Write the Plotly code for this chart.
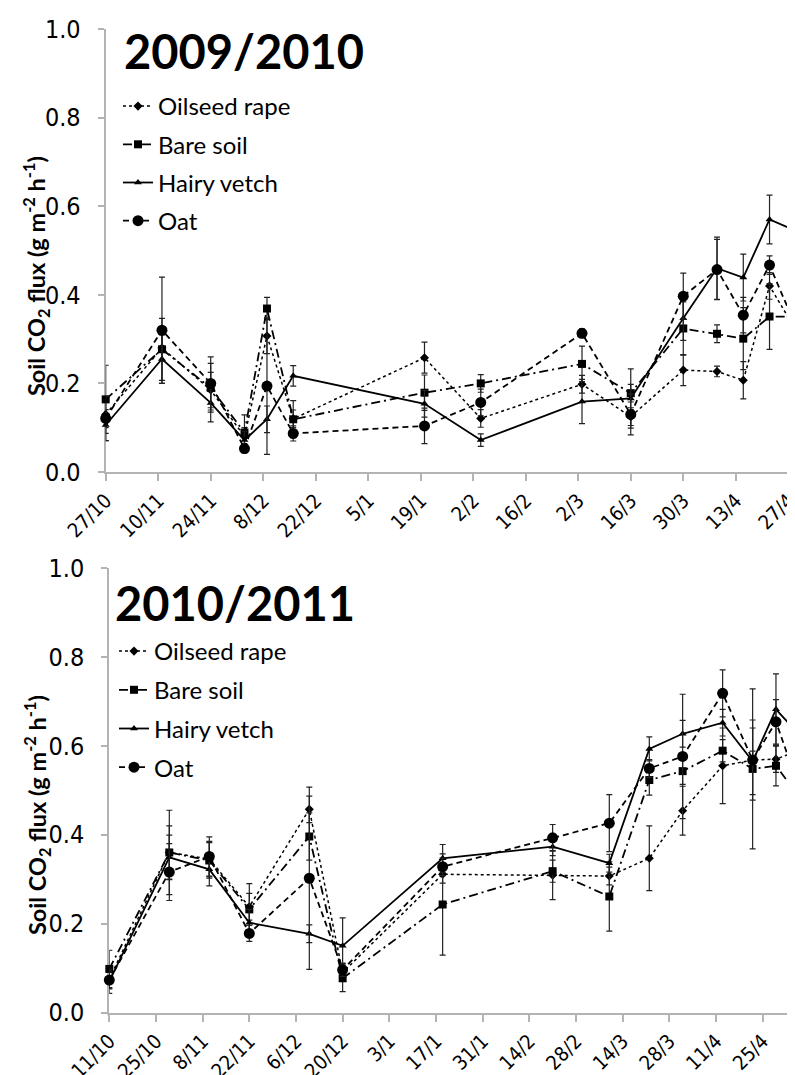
import plotly.graph_objects as go

# page is shown at 795x1075; the browser adds an 8px body margin
W, H = 795, 1075
OFF = 8
FW, FH = W - OFF, H - OFF


def px(x):
    return (x - OFF) / FW


def py(y):
    return 1 - (y - OFF) / FH


# ---------------- 2009/2010 ----------------
dates_0910 = ["2009-10-27", "2009-11-11", "2009-11-24", "2009-12-03", "2009-12-09",
              "2009-12-16", "2010-01-20", "2010-02-04", "2010-03-03", "2010-03-16",
              "2010-03-30", "2010-04-08", "2010-04-15", "2010-04-22", "2010-05-04"]
oilseed_0910 = [0.13, 0.28, 0.185, 0.08, 0.307, 0.12, 0.258, 0.121, 0.198, 0.125,
                0.23, 0.227, 0.207, 0.42, 0.25]
bare_0910 = [0.164, 0.277, 0.19, 0.089, 0.369, 0.119, 0.179, 0.2, 0.244, 0.178,
             0.324, 0.312, 0.301, 0.351, 0.35]
hairy_0910 = [0.106, 0.255, 0.156, 0.072, 0.119, 0.217, 0.154, 0.072, 0.159, 0.166,
              0.347, 0.46, 0.439, 0.57, 0.526]
oat_0910 = [0.121, 0.32, 0.2, 0.053, 0.194, 0.087, 0.104, 0.157, 0.313, 0.13,
            0.397, 0.457, 0.354, 0.467, 0.23]
oilseed_0910_err = [0.03, 0.03, 0.04, 0.02, 0.04, 0.02, 0.035, 0.02, 0.02, 0.02,
                    0.035, 0.012, 0.042, 0.03, 0.03]
bare_0910_err = [0.077, 0.07, 0.055, 0.04, 0.025, 0.042, 0.04, 0.02, 0.04, 0.02,
                 0.06, 0.02, 0.07, 0.074, 0.03]
hairy_0910_err = [0.035, 0.055, 0.043, 0.02, 0.03, 0.023, 0.03, 0.014, 0.05, 0.067,
                  0.05, 0.07, 0.053, 0.055, 0.03]
oat_0910_err = [0.05, 0.12, 0.06, 0.01, 0.154, 0.017, 0.04, 0.03, 0.01, 0.046,
                0.052, 0.068, 0.04, 0.021, 0.03]
tick_dates_0910 = ["2009-10-27", "2009-11-10", "2009-11-24", "2009-12-08", "2009-12-22",
                   "2010-01-05", "2010-01-19", "2010-02-02", "2010-02-16", "2010-03-02",
                   "2010-03-16", "2010-03-30", "2010-04-13", "2010-04-27"]
tick_labels_0910 = ["27/10", "10/11", "24/11", "8/12", "22/12", "5/1", "19/1", "2/2",
                    "16/2", "2/3", "16/3", "30/3", "13/4", "27/4"]

# ---------------- 2010/2011 ----------------
dates_1011 = ["2010-10-11", "2010-10-29", "2010-11-10", "2010-11-22", "2010-12-10",
              "2010-12-20", "2011-01-19", "2011-02-21", "2011-03-10", "2011-03-22",
              "2011-04-01", "2011-04-13", "2011-04-22", "2011-04-29", "2011-05-09"]
oilseed_1011 = [0.075, 0.36, 0.345, 0.238, 0.457, 0.09, 0.311, 0.309, 0.307, 0.347,
                0.454, 0.555, 0.568, 0.57, 0.598]
bare_1011 = [0.098, 0.36, 0.342, 0.232, 0.396, 0.077, 0.243, 0.318, 0.261, 0.523,
             0.543, 0.589, 0.548, 0.555, 0.455]
hairy_1011 = [0.07, 0.349, 0.322, 0.202, 0.177, 0.15, 0.347, 0.373, 0.336, 0.593,
              0.627, 0.652, 0.565, 0.682, 0.60]
oat_1011 = [0.073, 0.316, 0.351, 0.178, 0.302, 0.096, 0.328, 0.393, 0.426, 0.549,
            0.576, 0.718, 0.568, 0.654, 0.44]
oilseed_1011_err = [0.02, 0.095, 0.04, 0.03, 0.03, 0.02, 0.02, 0.055, 0.02, 0.073,
                    0.055, 0.085, 0.02, 0.03, 0.03]
bare_1011_err = [0.042, 0.06, 0.04, 0.058, 0.053, 0.03, 0.114, 0.025, 0.078, 0.034,
                 0.03, 0.025, 0.18, 0.045, 0.03]
hairy_1011_err = [0.027, 0.05, 0.037, 0.03, 0.02, 0.063, 0.031, 0.02, 0.02, 0.027,
                  0.03, 0.03, 0.075, 0.08, 0.03]
oat_1011_err = [0.02, 0.064, 0.044, 0.018, 0.205, 0.015, 0.02, 0.03, 0.064, 0.02,
                0.14, 0.053, 0.09, 0.05, 0.03]
tick_dates_1011 = ["2010-10-11", "2010-10-25", "2010-11-08", "2010-11-22", "2010-12-06",
                   "2010-12-20", "2011-01-03", "2011-01-17", "2011-01-31", "2011-02-14",
                   "2011-02-28", "2011-03-14", "2011-03-28", "2011-04-11", "2011-04-25"]
tick_labels_1011 = ["11/10", "25/10", "8/11", "22/11", "6/12", "20/12", "3/1", "17/1",
                    "31/1", "14/2", "28/2", "14/3", "28/3", "11/4", "25/4"]

series_names = ["Oilseed rape", "Bare soil", "Hairy vetch", "Oat"]
season_titles = ["2009/2010", "2010/2011"]

styles = {
    "Oilseed rape": dict(dash="dot", symbol="diamond", size=7, width=1.5),
    "Bare soil": dict(dash="9px,4px,2px,4px", symbol="square", size=8, width=1.8),
    "Hairy vetch": dict(dash="solid", symbol="triangle-up", size=7, width=1.8),
    "Oat": dict(dash="6px,4px", symbol="circle", size=11, width=1.8),
}

panels = [
    dict(dates=dates_0910,
         values=[oilseed_0910, bare_0910, hairy_0910, oat_0910],
         errs=[oilseed_0910_err, bare_0910_err, hairy_0910_err, oat_0910_err],
         xa="x", ya="y", legend="legend"),
    dict(dates=dates_1011,
         values=[oilseed_1011, bare_1011, hairy_1011, oat_1011],
         errs=[oilseed_1011_err, bare_1011_err, hairy_1011_err, oat_1011_err],
         xa="x2", ya="y2", legend="legend2"),
]

fig = go.Figure()
for p in panels:
    for name, vals, err in zip(series_names, p["values"], p["errs"]):
        st = styles[name]
        fig.add_trace(go.Scatter(
            x=p["dates"], y=vals, name=name, mode="lines+markers",
            xaxis=p["xa"], yaxis=p["ya"], legend=p["legend"],
            legendgroup=p["legend"] + name,
            line=dict(color="black", width=st["width"], dash=st["dash"]),
            marker=dict(color="black", symbol=st["symbol"], size=st["size"]),
            error_y=dict(type="data", array=err, visible=True, color="#222222",
                         thickness=1.2, width=3),
            cliponaxis=False,
        ))

axis_color = "#b3b3b3"
narrow = "Liberation Sans Narrow, DejaVu Sans Condensed, sans-serif"
tick_font = dict(family=narrow, size=20, color="black")
ytick_font = dict(family=narrow, size=25, color="black")


def xaxis_cfg(domain, rng, tickvals, ticktext, anchor):
    return dict(type="date", domain=domain, range=rng, tickmode="array",
                tickvals=tickvals, ticktext=ticktext, tickangle=-45,
                ticks="outside", ticklen=7, tickcolor=axis_color, tickwidth=1.5,
                showline=True, linecolor=axis_color, linewidth=2,
                showgrid=False, zeroline=False, tickfont=tick_font,
                ticklabeloverflow="allow",
                anchor=anchor, layer="below traces", fixedrange=True,
                automargin=False)


def yaxis_cfg(domain, anchor):
    return dict(domain=domain, range=[0, 1], dtick=0.2, tick0=0, tickformat=".1f",
                ticks="outside", ticklen=6, tickcolor=axis_color, tickwidth=1.5,
                showline=True, linecolor=axis_color, linewidth=2,
                showgrid=False, zeroline=False, tickfont=ytick_font,
                ticklabelstandoff=12, ticklabeloverflow="allow",
                anchor=anchor, layer="below traces",
                fixedrange=True, automargin=False)


fig.update_layout(
    width=FW, height=FH,
    margin=dict(l=0, r=0, t=0, b=0, autoexpand=False),
    paper_bgcolor="white", plot_bgcolor="white",
    xaxis=xaxis_cfg([px(105.7), 1.0], ["2009-10-27", "2010-04-28 19:00"],
                    tick_dates_0910, tick_labels_0910, "y"),
    yaxis=yaxis_cfg([py(472), py(29)], "x"),
    xaxis2=xaxis_cfg([px(109.3), 1.0], ["2010-10-11", "2011-05-04 17:00"],
                     tick_dates_1011, tick_labels_1011, "y2"),
    yaxis2=yaxis_cfg([py(1012.5), py(568)], "x2"),
    legend=dict(x=px(118), y=py(84), xanchor="left", yanchor="top",
                font=dict(family="Lato", size=24, color="black"),
                bgcolor="rgba(0,0,0,0)", traceorder="grouped", tracegroupgap=4,
                itemclick=False, itemdoubleclick=False),
    legend2=dict(x=px(114), y=py(629), xanchor="left", yanchor="top",
                 font=dict(family="Lato", size=24, color="black"),
                 bgcolor="rgba(0,0,0,0)", traceorder="grouped", tracegroupgap=4.5,
                 itemclick=False, itemdoubleclick=False),
    showlegend=True,
)

ytitle = "Soil CO<sub>2</sub> flux (g m<sup>-2</sup> h<sup>-1</sup>)"
annots = [
    dict(text=season_titles[0], x=px(122), y=py(51)),
    dict(text=season_titles[1], x=px(113), y=py(603)),
]
for a in annots:
    fig.add_annotation(xref="paper", yref="paper", x=a["x"], y=a["y"], text=a["text"],
                       showarrow=False, xanchor="left", yanchor="middle",
                       font=dict(family="Lato", size=47, color="black", weight="bold"))
for yc in [276, 815]:
    fig.add_annotation(xref="paper", yref="paper", x=px(37), y=py(yc), text=ytitle,
                       textangle=-90, showarrow=False, xanchor="center", yanchor="middle",
                       font=dict(family="Lato", size=23.5, color="black", weight="bold"))

fig.write_html("out.html")
